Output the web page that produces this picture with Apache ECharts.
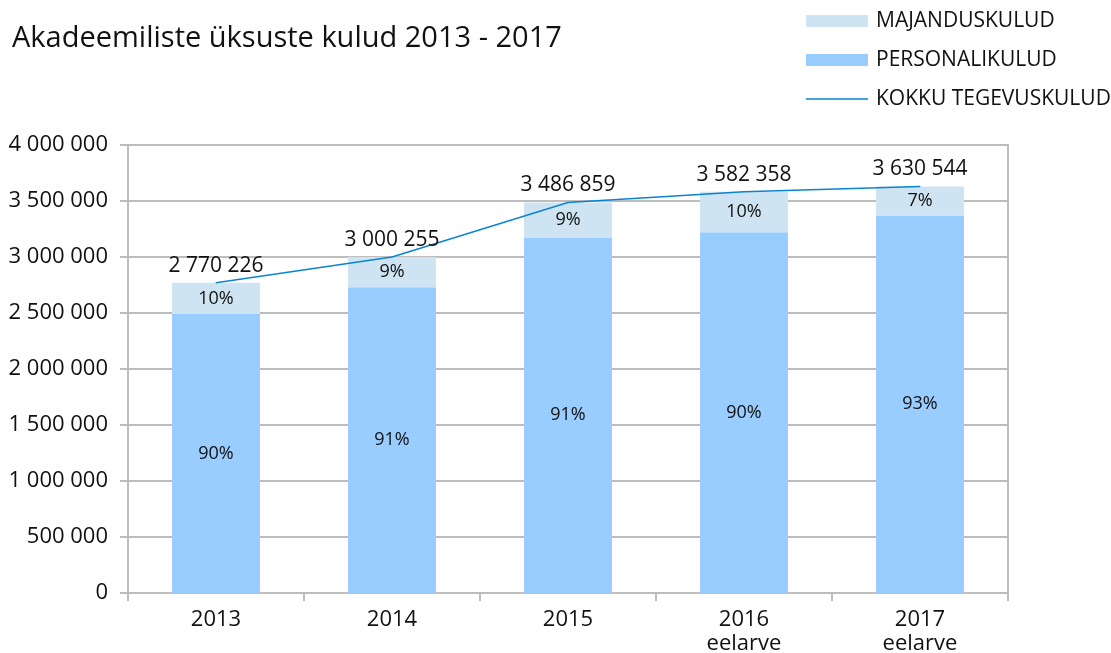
<!DOCTYPE html>
<html>
<head>
<meta charset="utf-8">
<script src="https://cdn.jsdelivr.net/npm/echarts@6/dist/echarts.min.js"></script>
<style>
  html, body { margin: 0; padding: 0; background: #fff; }
  #chart { width: 1111px; height: 653px; }
</style>
</head>
<body>
<div id="chart"></div>
<script>
  var years = ['2013', '2014', '2015', '2016\neelarve', '2017\neelarve']
  var personal = [2490000, 2730000, 3175000, 3220000, 3370000]
  var majandus = [280226, 270255, 311859, 362358, 260544]
  var kokku = [2770226, 3000255, 3486859, 3582358, 3630544]
  var personalPct = ['90%', '91%', '91%', '90%', '93%']
  var majandusPct = ['10%', '9%', '9%', '10%', '7%']

  var font = '"Open Sans", "Noto Sans", sans-serif'
  // thin line icon for the legend, with tiny corner dots to keep the 62x12 box
  var lineIcon = 'path://M0,0L0.01,0L0.01,0.01Z M0,5.2L62,5.2L62,6.8L0,6.8Z M62,12L61.99,12L61.99,11.99Z'

  function fmt (v) {
    return String(v).replace(/\B(?=(\d{3})+(?!\d))/g, ' ')
  }

  var myChart = echarts.init(document.getElementById('chart'))
  myChart.setOption({
    animation: false,
    textStyle: { fontFamily: font },
    title: {
      text: 'Akadeemiliste üksuste kulud 2013 - 2017',
      left: 7,
      top: 19,
      textStyle: { fontFamily: font, fontSize: 29, fontWeight: 'normal', color: '#111' }
    },
    legend: {
      orient: 'vertical',
      left: 801,
      top: 5,
      itemWidth: 62,
      itemHeight: 12,
      itemGap: 17,
      textStyle: { fontFamily: font, fontSize: 21, lineHeight: 22, color: '#111', padding: [0, 0, 0, 3] },
      data: [
        { name: 'MAJANDUSKULUD', icon: 'rect' },
        { name: 'PERSONALIKULUD', icon: 'rect' },
        { name: 'KOKKU TEGEVUSKULUD', icon: lineIcon }
      ]
    },
    grid: {
      left: 128,
      right: 103,
      top: 145,
      bottom: 60,
      outerBoundsMode: 'none',
      show: true,
      borderColor: '#bdbdbd',
      borderWidth: 2
    },
    xAxis: {
      type: 'category',
      data: years,
      axisLine: { lineStyle: { color: '#bdbdbd', width: 2 } },
      axisTick: { show: true, length: 8, lineStyle: { color: '#bdbdbd', width: 2 } },
      axisLabel: { fontFamily: font, fontSize: 22, color: '#111', margin: 15, lineHeight: 24 }
    },
    yAxis: {
      type: 'value',
      min: 0,
      max: 4000000,
      interval: 500000,
      axisLine: { show: true, lineStyle: { color: '#bdbdbd', width: 2 } },
      axisTick: { show: true, length: 8, lineStyle: { color: '#bdbdbd', width: 2 } },
      splitLine: { lineStyle: { color: '#bdbdbd', width: 2 } },
      axisLabel: { fontFamily: font, fontSize: 22, color: '#111', margin: 20, formatter: fmt }
    },
    series: [
      {
        name: 'PERSONALIKULUD',
        type: 'bar',
        stack: 'kulud',
        barWidth: '50%',
        data: personal,
        itemStyle: { color: '#99ccff' },
        label: {
          show: true,
          position: 'inside',
          fontSize: 18,
          color: '#111',
          formatter: function (p) { return personalPct[p.dataIndex] }
        }
      },
      {
        name: 'MAJANDUSKULUD',
        type: 'bar',
        stack: 'kulud',
        data: majandus,
        itemStyle: { color: '#cfe4f3' },
        label: {
          show: true,
          position: 'inside',
          fontSize: 18,
          color: '#111',
          formatter: function (p) { return majandusPct[p.dataIndex] }
        }
      },
      {
        name: 'KOKKU TEGEVUSKULUD',
        type: 'line',
        data: kokku,
        symbol: 'circle',
        symbolSize: 1,
        showSymbol: true,
        lineStyle: { color: '#0a84d0', width: 1.5 },
        itemStyle: { color: '#0a84d0' },
        label: {
          show: true,
          position: 'top',
          distance: 6,
          fontSize: 21,
          color: '#111',
          formatter: function (p) { return fmt(p.value) }
        },
        z: 5
      }
    ]
  })
</script>
</body>
</html>
